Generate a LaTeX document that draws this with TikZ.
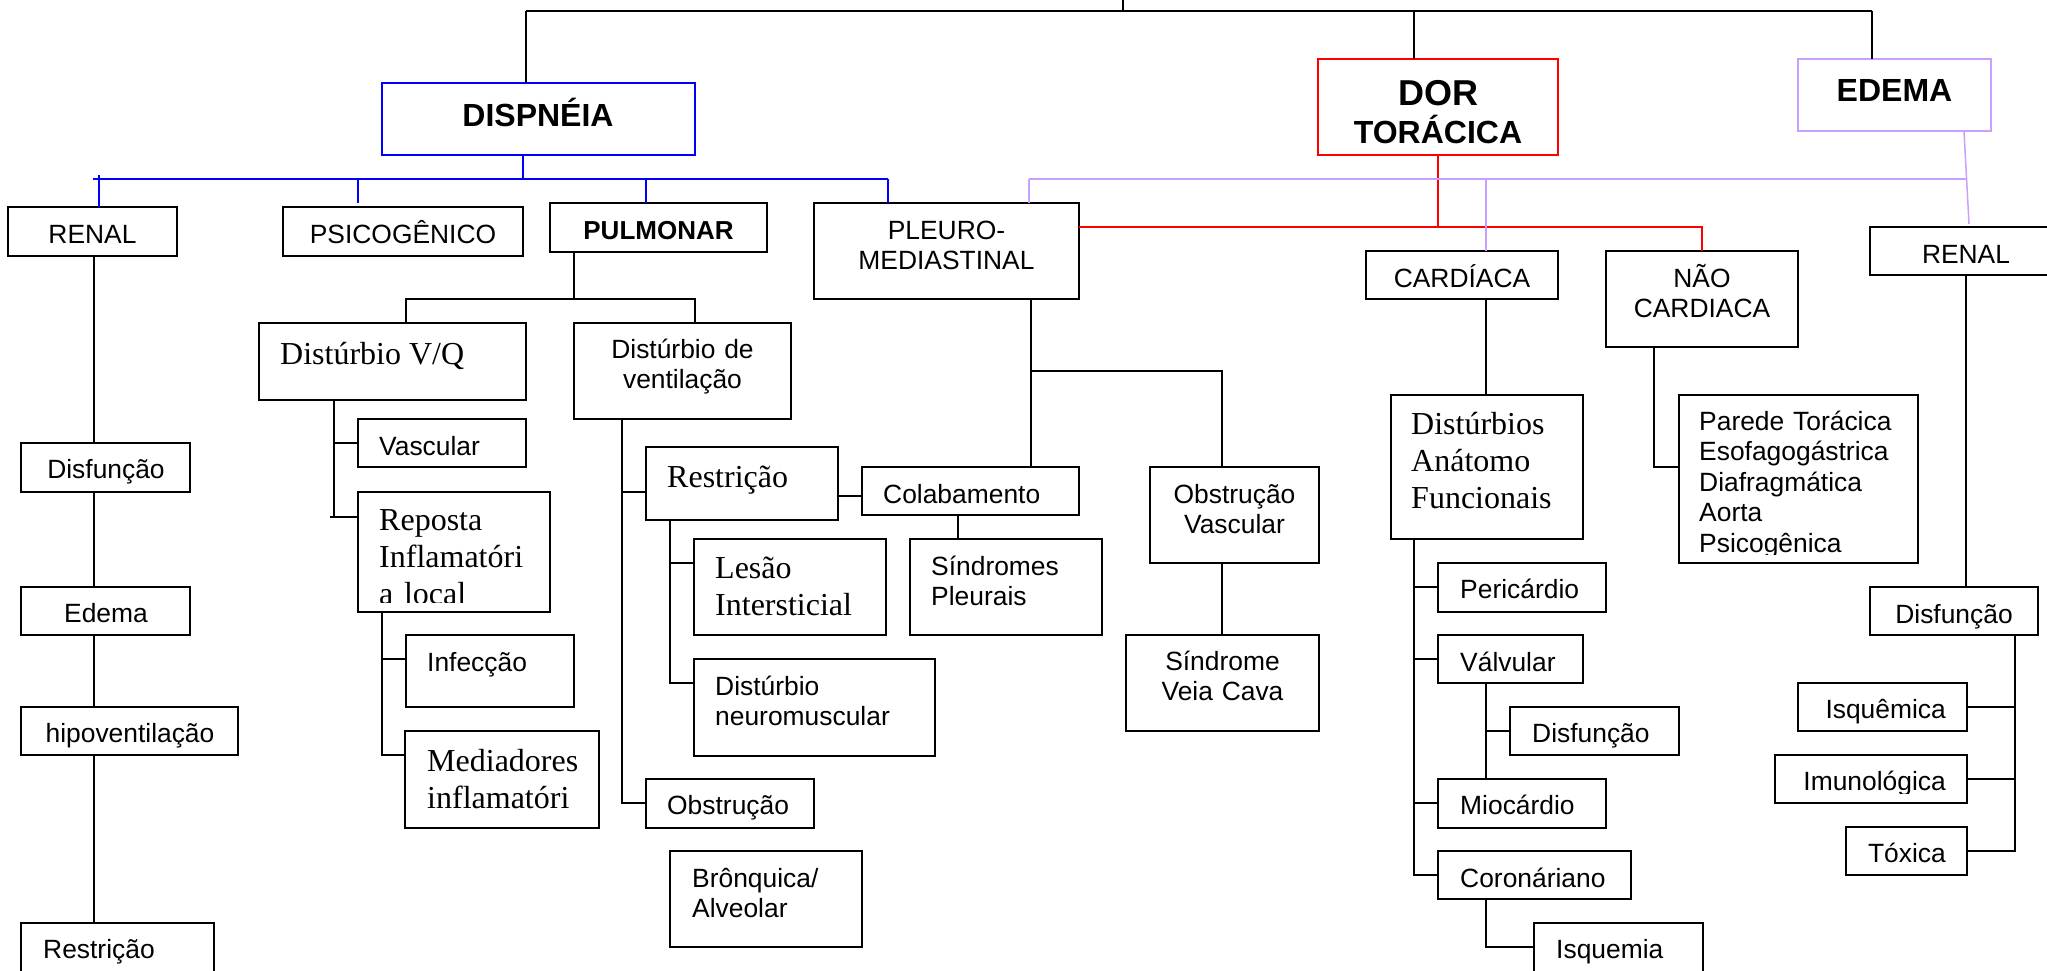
\documentclass[tikz,border=0pt]{standalone}
\usepackage{fontspec}
\setmainfont{Liberation Sans}
\newfontfamily\tnr{Liberation Serif}
\usetikzlibrary{fit}
\definecolor{blueline}{RGB}{0,0,255}
\definecolor{redline}{RGB}{255,0,0}
\definecolor{purp}{RGB}{200,160,255}
\tikzset{
  bx/.style={draw=black, line width=1.5pt, inner sep=0pt, outer sep=0pt},
  ln/.style={draw=black, line width=1.5pt},
  bl/.style={draw=blueline, line width=1.5pt},
  rd/.style={draw=redline, line width=1.5pt},
  pu/.style={draw=purp, line width=1.5pt},
  sans/.style={font=\fontsize{26.4}{30}\selectfont},
  parfont/.style={font=\fontsize{26.4}{30.5}\selectfont},
  serif/.style={font=\tnr\fontsize{32}{37}\selectfont},
  bold32/.style={font=\bfseries\fontsize{32}{38}\selectfont},
  bold26/.style={font=\bfseries\fontsize{26}{30}\selectfont},
  bold36/.style={font=\bfseries\fontsize{36}{40}\selectfont},
  tl/.style={inner sep=0pt, anchor=base west, align=left},
  tc/.style={inner sep=0pt, anchor=base, align=center},
  tr/.style={inner sep=0pt, anchor=base east, align=right},
}
\begin{document}
\begin{tikzpicture}[x=1pt,y=-1pt]
\useasboundingbox (0,0) rectangle (2047,970);
\clip (0,0) rectangle (2047,970);
% ---------- boxes ----------
\node[bx, draw=blueline, fit={(382,83) (695,155)}] (disp) {};
\node[bx, draw=redline, fit={(1318,59) (1558,155)}] (dor) {};
\node[bx, draw=purp, fit={(1798,59) (1991,131)}] (edema) {};
\node[bx, fit={(8,207) (177,256)}] (renalA) {};
\node[bx, fit={(283,207) (523,256)}] (psico) {};
\node[bx, fit={(550,203) (767,252)}] (pulm) {};
\node[bx, fit={(814,203) (1079,299)}] (pleuro) {};
\node[bx, fit={(1366,251) (1558,299)}] (card) {};
\node[bx, fit={(1606,251) (1798,347)}] (nao) {};
\node[bx, fit={(1870,227) (2062,275)}] (renalB) {};
\node[bx, fit={(21,443) (190,492)}] (disfA) {};
\node[bx, fit={(21,587) (190,635)}] (edemaA) {};
\node[bx, fit={(21,707) (238,755)}] (hipo) {};
\node[bx, fit={(21,923) (214,995)}] (restA) {};
\node[bx, fit={(259,323) (526,400)}] (vq) {};
\node[bx, fit={(574,323) (791,419)}] (dv) {};
\node[bx, fit={(358,419) (526,467)}] (vasc) {};
\node[bx, fit={(358,492) (550,612)}] (rep) {};
\node[bx, fit={(406,635) (574,707)}] (infec) {};
\node[bx, fit={(405,731) (599,828)}] (medi) {};
\node[bx, fit={(646,447) (838,520)}] (restB) {};
\node[bx, fit={(694,539) (886,635)}] (lesao) {};
\node[bx, fit={(694,659) (935,756)}] (neuro) {};
\node[bx, fit={(646,779) (814,828)}] (obst) {};
\node[bx, fit={(670,851) (862,947)}] (bronq) {};
\node[bx, fit={(862,467) (1079,515)}] (colab) {};
\node[bx, fit={(910,539) (1102,635)}] (sindp) {};
\node[bx, fit={(1150,467) (1319,563)}] (obsv) {};
\node[bx, fit={(1126,635) (1319,731)}] (svc) {};
\node[bx, fit={(1391,395) (1583,539)}] (daf) {};
\node[bx, fit={(1438,563) (1606,612)}] (peri) {};
\node[bx, fit={(1438,635) (1583,683)}] (valv) {};
\node[bx, fit={(1510,707) (1679,755)}] (disfC) {};
\node[bx, fit={(1438,779) (1606,828)}] (mioc) {};
\node[bx, fit={(1438,851) (1631,899)}] (coron) {};
\node[bx, fit={(1534,923) (1703,995)}] (isqm) {};
\node[bx, fit={(1679,395) (1918,563)}] (parede) {};
\node[bx, fit={(1870,587) (2038,635)}] (disfB) {};
\node[bx, fit={(1798,683) (1967,731)}] (isqu) {};
\node[bx, fit={(1775,755) (1967,803)}] (imuno) {};
\node[bx, fit={(1846,827) (1967,875)}] (tox) {};
% ---------- top connectors ----------
\coordinate (root) at (1123,0);
\coordinate (bar) at (1123,11);
\coordinate (jD) at (526,11);
\coordinate (jT) at (1414,11);
\coordinate (jE) at (1872,11);
\draw[ln] (root) -- (bar);
\draw[ln] (jD) -- (jE);
\draw[ln] (jD) -- (jD |- disp.north);
\draw[ln] (jT) -- (jT |- dor.north);
\draw[ln] (jE) -- (jE |- edema.north);
% ---------- blue ----------
\coordinate (bD) at (523,179);
\coordinate (bL) at (93,179);
\coordinate (bR) at (888,179);
\coordinate (bA) at (99,175);
\coordinate (bP) at (358,179);
\coordinate (bU) at (646,179);
\draw[bl] (bD |- disp.south) -- (bD);
\draw[bl] (bL) -- (bR);
\draw[bl] (bA) -- (bA |- renalA.north);
\draw[bl] (bP) -- ([yshift=4pt]bP |- psico.north);
\draw[bl] (bU) -- (bU |- pulm.north);
\draw[bl] (bR) -- (bR |- pleuro.north);
% ---------- red ----------
\coordinate (rD) at (1438,227);
\draw[rd] (dor.south) -- (dor.south |- rD);
\draw[rd] (pleuro.east |- rD) -- (nao.north |- rD) -- (nao.north);
% ---------- purple ----------
\coordinate (pL) at (1029,179);
\coordinate (pR) at (1967,179);
\coordinate (pC) at (1486,179);
\coordinate (pE1) at (1964,131);
\coordinate (pE2) at (1969,224);
\draw[pu] (pL) -- (pR);
\draw[pu] (pL) -- (pL |- pleuro.north);
\draw[pu] (pC) -- (pC |- card.north);
\draw[pu] (pE1) -- (pE2);
% ---------- left renal column ----------
\coordinate (xA) at (94,0);
\draw[ln] (renalA.south -| xA) -- (xA |- disfA.north);
\draw[ln] (disfA.south -| xA) -- (xA |- edemaA.north);
\draw[ln] (edemaA.south -| xA) -- (xA |- hipo.north);
\draw[ln] (hipo.south -| xA) -- (xA |- restA.north);
% ---------- pulmonar ----------
\coordinate (xP) at (574,299);
\coordinate (hP1) at (406,299);
\coordinate (hP2) at (695,299);
\draw[ln] (pulm.south -| xP) -- (xP);
\draw[ln] (hP1 |- vq.north) -- (hP1) -- (hP2) -- (hP2 |- dv.north);
\coordinate (xV) at (334,517);
\coordinate (cR) at (330,517);
\draw[ln] (vq.south -| xV) |- (vasc.west);
\draw[ln] (vq.south -| xV) -- (xV);
\draw[ln] (cR) -- (cR -| rep.west);
\coordinate (cI) at (382,659);
\coordinate (cM) at (382,755);
\draw[ln] (rep.south -| cI) -- (cM) -- (cM -| medi.west);
\draw[ln] (cI) -- (cI -| infec.west);
\coordinate (cRB) at (622,492);
\coordinate (cO) at (622,803);
\draw[ln] (dv.south -| cRB) -- (cO) -- (cO -| obst.west);
\draw[ln] (cRB) -- (cRB -| restB.west);
\coordinate (cL) at (670,563);
\coordinate (cN) at (670,683);
\draw[ln] (restB.south -| cL) -- (cN) -- (cN -| neuro.west);
\draw[ln] (cL) -- (cL -| lesao.west);
\coordinate (cC) at (838,496);
\draw[ln] (restB.east |- cC) -- (colab.west |- cC);
% ---------- pleuro ----------
\coordinate (cP1) at (1031,371);
\coordinate (cP2) at (1222,371);
\coordinate (cS) at (958,539);
\draw[ln] (pleuro.south -| cP1) -- (cP1 |- colab.north);
\draw[ln] (cP1) -- (cP2) -- (cP2 |- obsv.north);
\draw[ln] (colab.south -| cS) -- (cS |- sindp.north);
\draw[ln] (obsv.south -| cP2) -- (cP2 |- svc.north);
% ---------- cardiac ----------
\coordinate (cK) at (1486,0);
\draw[ln] (card.south -| cK) -- (cK |- daf.north);
\coordinate (d1) at (1414,587);
\coordinate (d2) at (1414,659);
\coordinate (d3) at (1414,803);
\coordinate (d4) at (1414,875);
\draw[ln] (daf.south -| d1) -- (d4) -- (d4 -| coron.west);
\draw[ln] (d1) -- (d1 -| peri.west);
\draw[ln] (d2) -- (d2 -| valv.west);
\draw[ln] (d3) -- (d3 -| mioc.west);
\coordinate (v1) at (1486,731);
\draw[ln] (valv.south -| v1) -- (v1 |- mioc.north);
\draw[ln] (v1) -- (v1 -| disfC.west);
\coordinate (k1) at (1486,947);
\draw[ln] (coron.south -| k1) -- (k1) -- (k1 -| isqm.west);
\coordinate (n1) at (1654,467);
\draw[ln] (nao.south -| n1) -- (n1) -- (n1 -| parede.west);
% ---------- renal right ----------
\coordinate (r1) at (1966,0);
\draw[ln] (renalB.south -| r1) -- (r1 |- disfB.north);
\coordinate (e1) at (2015,707);
\coordinate (e2) at (2015,779);
\coordinate (e3) at (2015,851);
\draw[ln] (disfB.south -| e1) -- (e3) -- (e3 -| tox.east);
\draw[ln] (e1) -- (e1 -| isqu.east);
\draw[ln] (e2) -- (e2 -| imuno.east);
% ---------- texts ----------
\node[tc, bold32] (tdisp) at (538,126) {DISPNÉIA};
\node[tc, bold36] (tdor) at (1438,105) {DOR};
\node[tc, bold32] (ttor) at (1438,143) {TORÁCICA};
\node[tc, bold32] (tedema) at (1894.5,101) {EDEMA};
\node[tc, sans] (trenalA) at (92.5,243) {RENAL};
\node[tc, sans] (tpsico) at (403,243) {PSICOGÊNICO};
\node[tc, bold26] (tpulm) at (658.5,239) {PULMONAR};
\node[tc, sans, text width=260pt] (tpleuro) at (946.5,239) {PLEURO-\\MEDIASTINAL};
\node[tc, sans] (tcard) at (1462,287) {CARDÍACA};
\node[tc, sans, text width=190pt] (tnao) at (1702,287) {NÃO\\CARDIACA};
\node[tc, sans] (trenalB) at (1966,263) {RENAL};
\node[tc, sans] (tdisfA) at (106,478) {Disfunção};
\node[tc, sans] (tedemaA) at (106,622) {Edema};
\node[tc, sans] (thipo) at (130,742) {hipoventilação};
\node[tl, sans] (trestA) at (43,958) {Restrição};
\node[tl, serif] (tvq) at (280,364) {Distúrbio V/Q};
\node[tc, sans, text width=210pt] (tdv) at (682.5,358) {Distúrbio de\\ventilação};
\node[tl, sans] (tvasc) at (379,455) {Vascular};
\begin{scope}
\clip (358,480) rectangle (560,602);
\node[tl, serif, text width=180pt] (trep) at (379,530) {Reposta\\Inflamatóri\\a local};
\end{scope}
\node[tl, sans] (tinfec) at (427,671) {Infecção};
\node[tl, serif, text width=180pt] (tmedi) at (427,771) {Mediadores\\inflamatóri};
\node[tl, serif] (trestB) at (667,487) {Restrição};
\node[tl, sans] (tcolab) at (883,503) {Colabamento};
\node[tl, serif, text width=180pt] (tlesao) at (715,578) {Lesão\\Intersticial};
\node[tl, sans, text width=180pt] (tsindp) at (931,575) {Síndromes\\Pleurais};
\node[tc, sans, text width=170pt] (tobsv) at (1234.5,503) {Obstrução\\Vascular};
\node[tc, sans, text width=190pt] (tsvc) at (1222.5,670) {Síndrome\\Veia Cava};
\node[tl, sans, text width=220pt] (tneuro) at (715,695) {Distúrbio\\neuromuscular};
\node[tl, sans] (tobst) at (667,814) {Obstrução};
\node[tl, sans, text width=180pt] (tbronq) at (692,887) {Brônquica/\\Alveolar};
\node[tl, serif, text width=180pt] (tdaf) at (1411,434) {Distúrbios\\Anátomo\\Funcionais};
\begin{scope}
\clip (1679,380) rectangle (1918,554);
\node[tl, parfont, text width=220pt] (tparede) at (1699,430) {Parede Torácica\\Esofagogástrica\\Diafragmática\\Aorta\\Psicogênica};
\end{scope}
\node[tl, sans] (tperi) at (1460,598) {Pericárdio};
\node[tl, sans] (tvalv) at (1460,671) {Válvular};
\node[tl, sans] (tdisfC) at (1532,742) {Disfunção};
\node[tl, sans] (tmioc) at (1460,814) {Miocárdio};
\node[tl, sans] (tcoron) at (1460,887) {Coronáriano};
\node[tl, sans] (tisqm) at (1556,958) {Isquemia};
\node[tc, sans] (tdisfB) at (1954,623) {Disfunção};
\node[tr, sans] (tisqu) at (1946,718) {Isquêmica};
\begin{scope}
\clip (1775,740) rectangle (1967,793);
\node[tr, sans] (timuno) at (1946,790) {Imunológica};
\end{scope}
\node[tr, sans] (ttox) at (1946,862) {Tóxica};
\end{tikzpicture}
\end{document}
